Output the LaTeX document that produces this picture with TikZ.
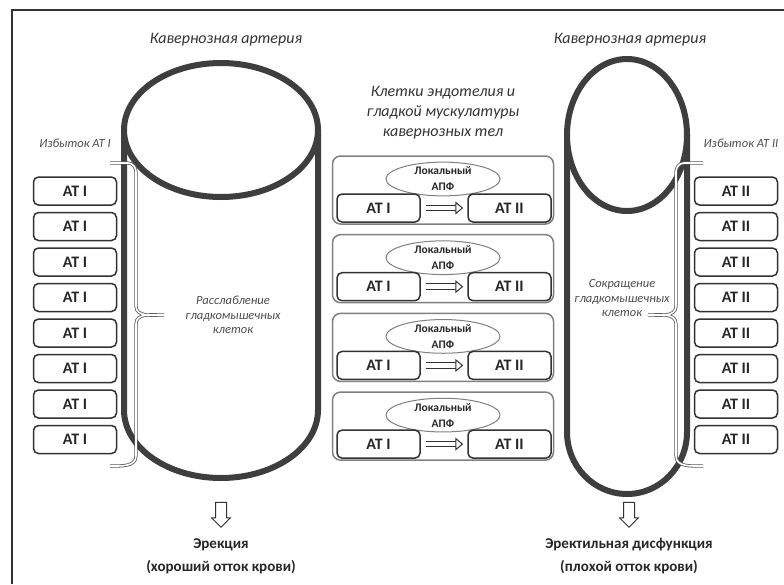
\documentclass[tikz,border=0pt]{standalone}
\usepackage{fontspec}
\setmainfont{Carlito}
\usetikzlibrary{positioning,shapes.geometric,shapes.arrows,arrows.meta}

\definecolor{cylgray}{RGB}{62,62,62}
\definecolor{boxgray}{RGB}{50,50,50}
\definecolor{panelgray}{RGB}{128,128,128}

\tikzset{
  cyl/.style={draw=cylgray, line width=6pt},
  brace/.style={draw=gray!70!black, double=white, line width=0.8pt, double distance=1.6pt},
  atbox/.style={draw=boxgray, line width=1.5pt, rounded corners=5pt, minimum width=83pt, minimum height=28pt, inner sep=0pt, font=\fontsize{16}{16}\selectfont\bfseries, text=black!85},
  panel/.style={draw=panelgray, line width=1.5pt, rounded corners=8pt, minimum width=221pt, minimum height=68pt},
  apf/.style={ellipse, draw=panelgray, line width=1pt, fill=white, minimum width=114pt, minimum height=32pt, inner sep=0pt, align=center, font=\fontsize{11.5}{16}\selectfont\bfseries, text=black!85},
  conv/.style={draw=boxgray, line width=1pt, double=white, double distance=4.5pt, -{Triangle[fill=white, length=8pt, width=13pt, line width=1pt]}, shorten <=5pt, shorten >=4pt},
  downarrow/.style={single arrow, draw=boxgray, line width=1pt, fill=white, shape border rotate=270, minimum height=25pt, single arrow head extend=4pt, single arrow head indent=0pt, inner sep=5pt},
  title/.style={font=\fontsize{16}{20}\selectfont\itshape, text=black!80, align=center},
  note/.style={font=\fontsize{12.5}{14.5}\selectfont\itshape, text=black!70, align=center},
  result/.style={font=\fontsize{15}{23}\selectfont\bfseries, text=black!85, align=center},
}

\begin{document}
\begin{tikzpicture}[x=1pt, y=-1pt, node distance=35.5pt, on grid]
    \useasboundingbox (0,0) rectangle (784,584);
    % frame
    \draw[line width=1.5pt, black!80] (12,584) -- (12,10) -- (784,10);

    % cavernous arteries
    \draw[cyl] (124,130) -- (124,410) arc[start angle=180, end angle=360, x radius=97pt, y radius=68pt] -- (318,130);
    \draw[cyl, fill=white] (221,130) ellipse [x radius=97pt, y radius=67pt];
    \draw[cyl] (567,135) -- (567,432) arc[start angle=180, end angle=360, x radius=60pt, y radius=62pt] -- (687,135);
    \draw[cyl, fill=white] (627,135) ellipse [x radius=60pt, y radius=76pt];

    \node[title] (art_l) at (226,40) {Кавернозная артерия};
    \node[title] (art_r) at (630,40) {Кавернозная артерия};
    \node[title] (cells) at (443,113) {Клетки эндотелия и\\гладкой мускулатуры\\кавернозных тел};

    % braces
    \draw[brace] (110,163) -- (128,163) to[out=0,in=90] (136,172) -- (136,306)
        to[out=-90,in=180] (164,315) to[out=180,in=90] (136,324) -- (136,456) to[out=-90,in=0] (110,466);
    \draw[brace] (703,163) -- (684,163) to[out=180,in=90] (676,172) -- (676,306)
        to[out=-90,in=0] (648,315) to[out=0,in=90] (676,324) -- (676,456) to[out=-90,in=180] (703,466);

    \node[note] (exc_l) at (75,143) {Избыток AT I};
    \node[note] (exc_r) at (741,143) {Избыток AT II};
    \node[note] (relax) at (233,315) {Расслабление\\гладкомышечных\\клеток};
    \node[note] (contr) at (622,298) {Сокращение\\гладкомышечных\\клеток};

    % AT I stack
    \node[atbox] (l1) at (75,191) {AT I};
    \node[atbox] (l2) [below=of l1] {AT I};
    \node[atbox] (l3) [below=of l2] {AT I};
    \node[atbox] (l4) [below=of l3] {AT I};
    \node[atbox] (l5) [below=of l4] {AT I};
    \node[atbox] (l6) [below=of l5] {AT I};
    \node[atbox] (l7) [below=of l6] {AT I};
    \node[atbox] (l8) [below=of l7] {AT I};

    % AT II stack
    \node[atbox] (r1) at (736,191) {AT II};
    \node[atbox] (r2) [below=of r1] {AT II};
    \node[atbox] (r3) [below=of r2] {AT II};
    \node[atbox] (r4) [below=of r3] {AT II};
    \node[atbox] (r5) [below=of r4] {AT II};
    \node[atbox] (r6) [below=of r5] {AT II};
    \node[atbox] (r7) [below=of r6] {AT II};
    \node[atbox] (r8) [below=of r7] {AT II};

    % local conversion panels
    \node[panel] (p1) at (443,190) {};
    \node[panel] (p2) [below=78.7pt of p1] {};
    \node[panel] (p3) [below=78.7pt of p2] {};
    \node[panel] (p4) [below=78.7pt of p3] {};

    \node[apf] (f1) [above=11pt of p1] {Локальный\\АПФ};
    \node[apf] (f2) [above=11pt of p2] {Локальный\\АПФ};
    \node[apf] (f3) [above=11pt of p3] {Локальный\\АПФ};
    \node[apf] (f4) [above=11pt of p4] {Локальный\\АПФ};

    \node[atbox] (a1) [below left=18pt and 64.5pt of p1] {AT I};
    \node[atbox] (b1) [right=131pt of a1] {AT II};
    \node[atbox] (a2) [below left=18pt and 64.5pt of p2] {AT I};
    \node[atbox] (b2) [right=131pt of a2] {AT II};
    \node[atbox] (a3) [below left=18pt and 64.5pt of p3] {AT I};
    \node[atbox] (b3) [right=131pt of a3] {AT II};
    \node[atbox] (a4) [below left=18pt and 64.5pt of p4] {AT I};
    \node[atbox] (b4) [right=131pt of a4] {AT II};

    \draw[conv] (a1) -- (b1);
    \draw[conv] (a2) -- (b2);
    \draw[conv] (a3) -- (b3);
    \draw[conv] (a4) -- (b4);

    % outcomes
    \node[downarrow] (dn_l) at (221,512) {};
    \node[downarrow] (dn_r) at (629,512) {};
    \node[result] (erec) at (221,556) {Эрекция\\(хороший отток крови)};
    \node[result] (dysf) at (629,556) {Эректильная дисфункция\\(плохой отток крови)};
\end{tikzpicture}
\end{document}
